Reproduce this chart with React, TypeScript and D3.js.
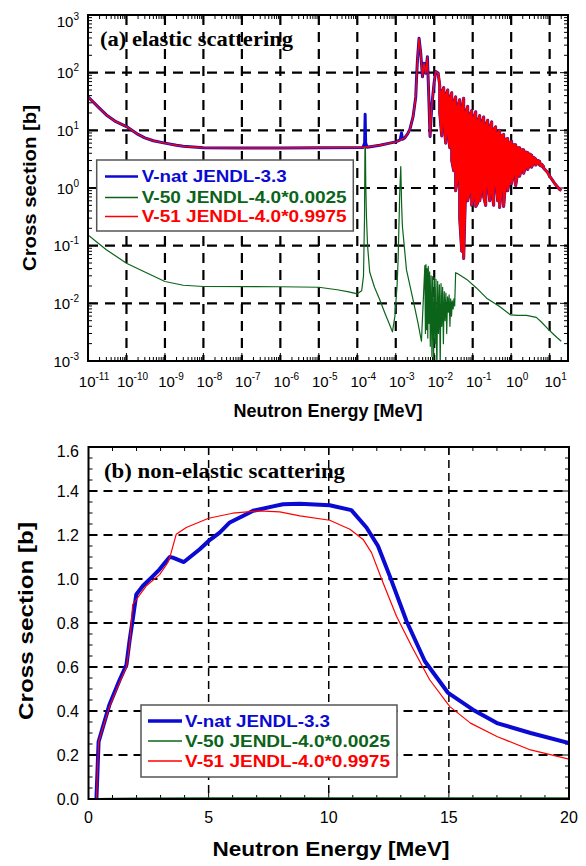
import React from 'react';
import * as d3 from 'd3';

// ---------- axis tick definitions ----------
const topXDecades = [-11, -10, -9, -8, -7, -6, -5, -4, -3, -2, -1, 0, 1];
const topYDecades = [-3, -2, -1, 0, 1, 2, 3];
const botXTicks = [0, 5, 10, 15, 20];
const botYTicks = [0, 0.2, 0.4, 0.6, 0.8, 1.0, 1.2, 1.4, 1.6];

// ---------- (a) elastic scattering ----------
// V-51 JENDL-4.0*0.9975, thermal + first resonances [MeV, b]
const v51LowE = [1e-11, 2e-11, 3e-11, 5e-11, 1e-10, 2e-10, 3e-10, 5e-10, 1e-9, 2e-9, 3e-9, 1e-8, 1e-7, 1e-6, 1e-5, 1.35e-4, 3.84e-4, 6.98e-4, 1e-3, 1.4e-3, 1.71e-3, 2.05e-3, 2.31e-3, 2.82e-3, 3.31e-3, 3.45e-3, 3.66e-3, 4.03e-3, 4.46e-3, 4.94e-3, 5.43e-3, 6.01e-3, 6.65e-3, 7.32e-3, 7.78e-3, 8.61e-3, 9.88e-3, 1.09e-2, 1.26e-2];
const v51LowS = [38, 24, 18.5, 14.5, 11.6, 8.5, 7.4, 6.6, 6.0, 5.5, 5.3, 5.0, 4.95, 4.95, 5.0, 5.05, 5.5, 6.0, 6.3, 6.9, 7.4, 8.8, 10.2, 17.3, 38, 75, 166, 395, 217, 85, 146, 98, 189, 29, 7.8, 25.7, 65, 105, 99];
// V-nat JENDL-3.3 (includes V-50 resonances)
const vnatLowE = [1e-11, 2e-11, 3e-11, 5e-11, 1e-10, 2e-10, 3e-10, 5e-10, 1e-9, 2e-9, 3e-9, 1e-8, 1e-7, 1e-6, 1e-5, 1.4e-4, 1.55e-4, 1.6e-4, 1.65e-4, 1.8e-4, 3.84e-4, 6.98e-4, 1e-3, 1.3e-3, 1.41e-3, 1.5e-3, 1.71e-3, 2.05e-3, 2.31e-3, 2.82e-3, 3.31e-3, 3.45e-3, 3.66e-3, 4.03e-3, 4.46e-3, 4.94e-3, 5.43e-3, 6.01e-3, 6.65e-3, 7.32e-3, 7.78e-3, 8.61e-3, 9.88e-3, 1.09e-2, 1.26e-2];
const vnatLowS = [38, 24, 18.5, 14.5, 11.6, 8.5, 7.4, 6.6, 6.0, 5.5, 5.3, 5.0, 4.95, 4.95, 5.0, 5.05, 6.0, 19, 6.0, 5.1, 5.5, 6.0, 6.3, 6.8, 9.0, 7.0, 7.4, 8.8, 10.2, 17.3, 38, 75, 166, 395, 217, 85, 146, 98, 189, 29, 7.8, 25.7, 65, 105, 99];
// dense resonance region: upper and lower excursions per energy
const resE = [0.0139, 0.01567, 0.01766, 0.0199, 0.02244, 0.0253, 0.0285, 0.0321, 0.0361, 0.0407, 0.0459, 0.0518, 0.0583, 0.0658, 0.0741, 0.0836, 0.0942, 0.106, 0.120, 0.135, 0.152, 0.171, 0.193, 0.218, 0.245, 0.277, 0.312, 0.351, 0.395, 0.446, 0.502, 0.566, 0.638, 0.719, 0.811, 0.914, 1.03, 1.16, 1.31, 1.48, 1.66, 1.87, 2.11, 2.38, 2.69, 3.03, 3.40, 3.84, 4.32, 4.88, 5.50, 6.19, 6.98];
const resHi = [60, 45, 55, 40, 50, 35, 45, 30, 38, 25, 34, 22, 36, 20, 26, 18, 22, 16, 21, 14, 18, 13, 17, 12, 15, 11, 14, 10, 11.5, 9, 10, 8, 8.5, 7.0, 7.2, 6.2, 6.4, 5.6, 5.6, 5.0, 5.0, 4.6, 4.6, 4.2, 4.1, 3.9, 3.7, 3.4, 3.2, 3.0, 2.9, 2.6, 2.35];
const resLo = [20, 8, 15, 6, 10, 5, 3, 2, 0.9, 1.5, 0.3, 0.08, 0.06, 1.2, 0.6, 0.9, 0.5, 0.7, 0.48, 0.55, 0.6, 1.0, 0.7, 0.5, 1.2, 0.6, 0.9, 0.5, 1.3, 0.6, 0.46, 1.0, 0.48, 1.3, 0.9, 1.4, 1.2, 1.8, 1.1, 1.9, 1.6, 2.2, 1.8, 2.4, 2.1, 2.6, 2.3, 2.8, 2.5, 2.7, 2.5, 2.4, 2.2];
const tailE = [8.9, 10, 13.5, 18, 20];
const tailS = [1.85, 1.6, 1.2, 0.95, 0.9];
// V-50 JENDL-4.0*0.0025
const v50E = [1e-11, 3e-11, 1e-10, 3.3e-10, 1e-9, 3e-9, 1e-8, 1e-6, 1e-5, 3e-5, 6e-5, 1.0e-4, 1.3e-4, 1.45e-4, 1.54e-4, 1.6e-4, 1.66e-4, 1.73e-4, 1.85e-4, 2.1e-4, 2.8e-4, 3.84e-4, 5.2e-4, 6.98e-4, 8.2e-4, 9.5e-4, 1.08e-3, 1.15e-3, 1.27e-3, 1.35e-3, 1.42e-3, 1.49e-3, 1.9e-3, 2.82e-3, 3.8e-3, 4.65e-3,
  0.0057, 0.0059, 0.0061, 0.0063, 0.0065, 0.0068, 0.0070, 0.0073, 0.0076, 0.0079, 0.0083, 0.0087, 0.0091, 0.0096, 0.0101, 0.0106, 0.0111, 0.0117, 0.0123, 0.0129, 0.0136, 0.0143, 0.0150, 0.0157, 0.0165, 0.0173, 0.0182, 0.0191, 0.0201, 0.0211, 0.0222, 0.0233, 0.0244, 0.0256, 0.0268, 0.0281, 0.0295, 0.0310, 0.0325, 0.0340, 0.036,
  0.04, 0.07, 0.125, 0.23, 0.5, 0.97, 1.5, 2.5, 4.5, 6, 9, 12, 16, 20];
const v50S = [0.154, 0.085, 0.0497, 0.034, 0.0239, 0.0206, 0.0196, 0.0194, 0.019, 0.0172, 0.0158, 0.0146, 0.0165, 0.03, 0.3, 16, 1.2, 0.32, 0.1, 0.035, 0.019, 0.0115, 0.0068, 0.0042, 0.0032, 0.006, 0.02, 0.0565, 0.83, 2.35, 0.5, 0.215, 0.038, 0.0115, 0.0045, 0.0022,
  0.045, 0.003, 0.047, 0.0035, 0.040, 0.0025, 0.044, 0.0045, 0.035, 0.0018, 0.030, 0.0012, 0.029, 0.0009, 0.028, 0.002, 0.026, 0.0006, 0.024, 0.003, 0.021, 0.0008, 0.022, 0.004, 0.019, 0.002, 0.016, 0.005, 0.015, 0.003, 0.013, 0.007, 0.014, 0.004, 0.012, 0.006, 0.011, 0.008, 0.012, 0.009, 0.034,
  0.033, 0.026, 0.0185, 0.0123, 0.0088, 0.0063, 0.0062, 0.0062, 0.0057, 0.0048, 0.0036, 0.003, 0.0025, 0.0022];

// ---------- (b) non-elastic scattering ----------
const natNonelE = [0.33, 0.42, 0.875, 1.29, 1.58, 1.71, 1.84, 1.99, 2.26, 2.68, 2.96, 3.24, 3.38, 3.51, 3.97, 4.63, 5.0, 5.46, 5.88, 6.57, 6.85, 7.68, 8.1, 8.79, 10.04, 10.94, 11.57, 12.05, 12.54, 13.24, 14.0, 14.97, 16.0, 17.0, 18.4, 20];
const natNonelS = [0, 0.26, 0.43, 0.54, 0.61, 0.72, 0.816, 0.93, 0.968, 1.013, 1.044, 1.082, 1.10, 1.097, 1.077, 1.135, 1.173, 1.211, 1.257, 1.294, 1.31, 1.33, 1.34, 1.342, 1.335, 1.313, 1.234, 1.15, 1.013, 0.808, 0.626, 0.482, 0.406, 0.345, 0.30, 0.254];
const v51NonelE = [0.33, 0.42, 0.875, 1.29, 1.58, 1.71, 1.84, 2.4, 2.96, 3.3, 3.4, 3.65, 4.07, 5.0, 6.0, 7.1, 7.96, 8.8, 10.04, 10.88, 11.43, 11.78, 12.26, 12.82, 13.45, 14.2, 15.04, 15.9, 17.0, 18.4, 20];
const v51NonelS = [0, 0.26, 0.42, 0.53, 0.60, 0.70, 0.884, 0.968, 1.02, 1.074, 1.104, 1.203, 1.234, 1.276, 1.299, 1.31, 1.305, 1.287, 1.267, 1.226, 1.18, 1.12, 0.983, 0.831, 0.694, 0.542, 0.42, 0.345, 0.284, 0.223, 0.181];
const v50NonelE = [0.4, 1, 2, 5, 10, 15, 20];
const v50NonelS = [0, 0.001, 0.002, 0.003, 0.003, 0.003, 0.003];

const legendLabels = ['V-nat JENDL-3.3', 'V-50 JENDL-4.0*0.0025', 'V-51 JENDL-4.0*0.9975'];

// ---------- styling ----------
const BLUE = '#0a0ad2';
const GREEN = '#0b641a';
const RED = '#ff0000';
const SANS = "'Liberation Sans', Arial, Helvetica, sans-serif";
const SERIF = "'Liberation Serif', 'Times New Roman', serif";

type P = [number, number];
const zip = (a: number[], b: number[]): P[] => a.map((v, i) => [v, b[i]] as P);

export default function App() {
  const xT = d3.scaleLog().domain([1e-11, 30]).range([88, 568]);
  const yT = d3.scaleLog().domain([1e-3, 1e3]).range([361, 15]);
  const xB = d3.scaleLinear().domain([0, 20]).range([88.5, 569]);
  const yB = d3.scaleLinear().domain([0, 1.6]).range([799, 447]);

  const resPts: P[] = [];
  resE.forEach((e, i) => {
    if (i % 2 === 0) resPts.push([e, resHi[i]], [e, resLo[i]]);
    else resPts.push([e, resLo[i]], [e, resHi[i]]);
  });
  const v51Low = zip(v51LowE, v51LowS);
  const v51Res = [v51Low[v51Low.length - 1], ...resPts, ...zip(tailE, tailS)];
  const natEl = [...zip(vnatLowE, vnatLowS), ...resPts, ...zip(tailE, tailS)];
  const v50El = zip(v50E, v50S);

  const lineT = d3.line<P>().x(d => xT(d[0])).y(d => yT(d[1]));
  const lineB = d3.line<P>().x(d => xB(d[0])).y(d => yB(d[1]));

  const [tx0, tx1] = [88, 568];
  const [ty0, ty1] = [15, 361];
  const xMinor: { v: number; major: boolean }[] = [];
  topXDecades.forEach(d => {
    for (let m = 1; m <= 9; m++) {
      const v = m * Math.pow(10, d);
      if (v >= 1e-11 && v <= 30) xMinor.push({ v, major: m === 1 });
    }
  });
  const yMinor: { v: number; major: boolean }[] = [];
  topYDecades.forEach(d => {
    for (let m = 1; m <= 9; m++) {
      const v = m * Math.pow(10, d);
      if (v >= 1e-3 && v <= 1e3) yMinor.push({ v, major: m === 1 });
    }
  });

  const bx0 = 88.5, bx1 = 569, by0 = 447, by1 = 799;
  const bxMinor: number[] = d3.range(0, 21, 1);
  const byMinor: number[] = d3.range(0, 1.6001, 0.05);

  const legend = (x0: number, y0: number, w: number, h: number, sx1: number, sx2: number, tx: number, ys: number[], bases: number[], widths: number[], big: boolean) => (
    <g>
      <rect x={x0} y={y0} width={w} height={h} fill="#fff" stroke="#555" strokeWidth={1.5} />
      {legendLabels.map((lab, i) => {
        const col = [BLUE, GREEN, RED][i];
        const sw = i === 0 ? (big ? 3.5 : 2.5) : 1.3;
        return (
          <g key={lab}>
            <line x1={sx1} x2={sx2} y1={ys[i]} y2={ys[i]} stroke={col} strokeWidth={sw} />
            <text x={tx} y={bases[i]} fill={col} fontFamily={SANS} fontWeight="bold" fontSize={16}
              textLength={widths[i]} lengthAdjust="spacingAndGlyphs">{lab}</text>
          </g>
        );
      })}
    </g>
  );

  return (
    <svg width={586} height={866} style={{ position: 'absolute', left: 0, top: 0, background: '#fff' }}>
      <defs>
        <clipPath id="clipT"><rect x={tx0} y={ty0} width={tx1 - tx0} height={ty1 - ty0} /></clipPath>
        <clipPath id="clipB"><rect x={bx0} y={by0} width={bx1 - bx0} height={by1 - by0} /></clipPath>
      </defs>
      <rect x={0} y={0} width={586} height={866} fill="#fff" />

      {/* ================= TOP PANEL ================= */}
      {topXDecades.filter(d => d > -11).map(d => (
        <line key={'gx' + d} x1={xT(Math.pow(10, d))} x2={xT(Math.pow(10, d))} y1={ty0} y2={ty1}
          stroke="#000" strokeWidth={2.2} strokeDasharray="10,7" />
      ))}
      {topYDecades.filter(d => d > -3 && d < 3).map(d => (
        <line key={'gy' + d} x1={tx0} x2={tx1} y1={yT(Math.pow(10, d))} y2={yT(Math.pow(10, d))}
          stroke="#000" strokeWidth={2.2} strokeDasharray="10,7" />
      ))}
      {xMinor.map((t, i) => {
        const x = xT(t.v); const L = t.major ? 8 : 4;
        return (<g key={'tx' + i}>
          <line x1={x} x2={x} y1={ty1} y2={ty1 - L} stroke="#000" strokeWidth={1} />
          <line x1={x} x2={x} y1={ty0} y2={ty0 + L} stroke="#000" strokeWidth={1} />
        </g>);
      })}
      {yMinor.map((t, i) => {
        const y = yT(t.v); const L = t.major ? 8 : 4;
        return (<g key={'ty' + i}>
          <line x1={tx0} x2={tx0 + L} y1={y} y2={y} stroke="#000" strokeWidth={1} />
          <line x1={tx1} x2={tx1 - L} y1={y} y2={y} stroke="#000" strokeWidth={1} />
        </g>);
      })}
      <g clipPath="url(#clipT)" fill="none" strokeLinejoin="round">
        <path d={lineT(v50El) || ''} stroke={GREEN} strokeWidth={1.2} />
        <path d={lineT(natEl) || ''} stroke={BLUE} strokeWidth={3} />
        <path d={lineT(v51Low) || ''} stroke={RED} strokeWidth={1.5} />
        <path d={lineT(v51Res) || ''} stroke={RED} strokeWidth={2.3} />
      </g>
      <rect x={tx0} y={ty0} width={tx1 - tx0} height={ty1 - ty0} fill="none" stroke="#000" strokeWidth={2} />
      {topYDecades.map(d => {
        const y = yT(Math.pow(10, d));
        return (
          <text key={'ly' + d} x={79} y={Math.max(y + 5.5, 27)} textAnchor="end" fontFamily={SANS} fontSize={15}>
            10<tspan fontSize={10} dy={-7}>{d}</tspan>
          </text>
        );
      })}
      {topXDecades.map(d => (
        <text key={'lx' + d} x={xT(Math.pow(10, d)) + 6} y={387} textAnchor="middle" fontFamily={SANS} fontSize={15}>
          10<tspan fontSize={10} dy={-7}>{d}</tspan>
        </text>
      ))}
      <text x={328} y={417} textAnchor="middle" fontFamily={SANS} fontWeight="bold" fontSize={18}
        textLength={189} lengthAdjust="spacingAndGlyphs">Neutron Energy [MeV]</text>
      <text transform="translate(36,188) rotate(-90)" textAnchor="middle" fontFamily={SANS} fontWeight="bold" fontSize={18}
        textLength={166} lengthAdjust="spacingAndGlyphs">Cross section [b]</text>
      <text x={100} y={46} fontFamily={SERIF} fontWeight="bold" fontSize={20}
        textLength={193} lengthAdjust="spacingAndGlyphs">(a) elastic scattering</text>
      {legend(96.7, 160, 256.6, 71, 105, 138, 141.7, [176.5, 197.5, 216.5], [182, 203, 222], [145, 205, 205], false)}

      {/* ================= BOTTOM PANEL ================= */}
      {botXTicks.filter(v => v > 0 && v < 20).map(v => (
        <line key={'bgx' + v} x1={xB(v)} x2={xB(v)} y1={by0} y2={by1} stroke="#000" strokeWidth={1.5} strokeDasharray="8,5" />
      ))}
      {botYTicks.filter(v => v > 0 && v < 1.6).map(v => (
        <line key={'bgy' + v} x1={bx0} x2={bx1} y1={yB(v)} y2={yB(v)} stroke="#000" strokeWidth={2} strokeDasharray="9,6" />
      ))}
      {bxMinor.map(v => {
        const x = xB(v); const L = v % 5 === 0 ? 8 : 4;
        return (<g key={'btx' + v}>
          <line x1={x} x2={x} y1={by1} y2={by1 - L} stroke="#000" strokeWidth={1} />
          <line x1={x} x2={x} y1={by0} y2={by0 + L} stroke="#000" strokeWidth={1} />
        </g>);
      })}
      {byMinor.map((v, i) => {
        const y = yB(v); const L = i % 4 === 0 ? 8 : 4;
        return (<g key={'bty' + i}>
          <line x1={bx0} x2={bx0 + L} y1={y} y2={y} stroke="#000" strokeWidth={1} />
          <line x1={bx1} x2={bx1 - L} y1={y} y2={y} stroke="#000" strokeWidth={1} />
        </g>);
      })}
      <g clipPath="url(#clipB)" fill="none" strokeLinejoin="round">
        <path d={lineB(zip(v50NonelE, v50NonelS)) || ''} stroke={GREEN} strokeWidth={2} />
        <path d={lineB(zip(natNonelE, natNonelS)) || ''} stroke={BLUE} strokeWidth={4} />
        <path d={lineB(zip(v51NonelE, v51NonelS)) || ''} stroke={RED} strokeWidth={1.2} />
      </g>
      <rect x={bx0} y={by0} width={bx1 - bx0} height={by1 - by0} fill="none" stroke="#000" strokeWidth={2} />
      {botYTicks.map(v => (
        <text key={'bly' + v} x={79} y={Math.max(yB(v) + 5.5, 457)} textAnchor="end" fontFamily={SANS} fontSize={16}>
          {v.toFixed(1)}
        </text>
      ))}
      {botXTicks.map(v => (
        <text key={'blx' + v} x={xB(v)} y={823} textAnchor="middle" fontFamily={SANS} fontSize={16}>{v}</text>
      ))}
      <text x={331} y={856} textAnchor="middle" fontFamily={SANS} fontWeight="bold" fontSize={20}
        textLength={237} lengthAdjust="spacingAndGlyphs">Neutron Energy [MeV]</text>
      <text transform="translate(33,621) rotate(-90)" textAnchor="middle" fontFamily={SANS} fontWeight="bold" fontSize={20}
        textLength={198} lengthAdjust="spacingAndGlyphs">Cross section [b]</text>
      <text x={104} y={478} fontFamily={SERIF} fontWeight="bold" fontSize={20}
        textLength={241} lengthAdjust="spacingAndGlyphs">(b) non-elastic scattering</text>
      {legend(141, 705, 256, 72, 148, 182, 185, [721, 741, 761], [727, 747, 767], [145, 205, 205], true)}
    </svg>
  );
}
